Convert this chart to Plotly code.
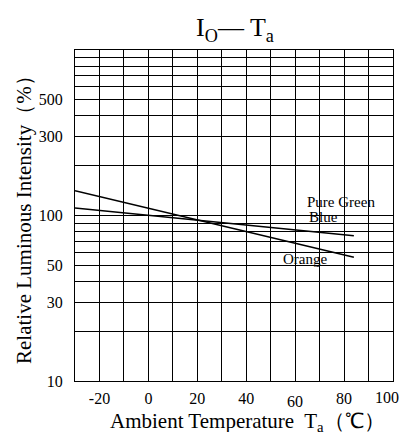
import math
import plotly.graph_objects as go

# Data
temps = [-30, 84]
orange = [141, 56]
pure_green_blue = [111, 75.5]

x_grid = list(range(-30, 101, 10))
x_tick_labels = {-20: "-20", 0: "0", 20: "20", 40: "40", 80: "80"}
x_labels = [x_tick_labels.get(v, "") for v in x_grid]
y_grid = [10, 20, 30, 40, 50, 60, 70, 80, 90, 100, 200, 300, 400, 500, 600, 700, 800, 900, 1000]
y_label_vals = {10: "10", 30: "30", 50: "50", 100: "100", 300: "300", 500: "500"}
y_labels = [y_label_vals.get(v, "") for v in y_grid]

serif = "Liberation Serif"
W, H = 403, 432
L, R, T, B = 75, 10, 50, 51
PW, PH = W - L - R, H - T - B


def py(pix):
    """pixel row -> paper y"""
    return ((H - B) - pix) / PH


def px(pix):
    """pixel column -> paper x"""
    return (pix - L) / PW


fig = go.Figure()
fig.add_trace(go.Scatter(x=temps, y=orange, mode="lines",
                         line=dict(color="black", width=1.6), showlegend=False))
fig.add_trace(go.Scatter(x=temps, y=pure_green_blue, mode="lines",
                         line=dict(color="black", width=1.6), showlegend=False))

annos = [
    dict(x=64, y=121, text="Pure Green", xanchor="left"),
    dict(x=65, y=98.5, text="Blue", xanchor="left"),
    dict(x=64, y=54.6, text="Orange", xanchor="center"),
]
for a in annos:
    fig.add_annotation(x=a["x"], y=math.log10(a["y"]), yref="y", xref="x", text=a["text"],
                       xanchor=a["xanchor"], yanchor="middle", showarrow=False,
                       font=dict(family=serif, size=15, color="black"))

# x tick labels that sit off the regular row in the reference
for val, text, row, dx in [(60, "60", 401, 0), (100, "100", 398, -6)]:
    fig.add_annotation(x=val, xref="x", y=py(row), yref="paper", text=text,
                       xanchor="center", yanchor="middle", xshift=dx, showarrow=False,
                       font=dict(family=serif, size=16, color="black"))

# axis titles
fig.add_annotation(x=px(247), y=py(422), xref="paper", yref="paper",
                   xanchor="center", yanchor="middle", showarrow=False,
                   text="Ambient Temperature  T<sub>a</sub>（℃）",
                   font=dict(family=serif, size=21, color="black"))
fig.add_annotation(x=px(24), y=py(215), xref="paper", yref="paper",
                   xanchor="center", yanchor="middle", showarrow=False, textangle=-90,
                   text="Relative Luminous Intensity（%）",
                   font=dict(family=serif, size=21, color="black"))

fig.update_layout(
    width=W, height=H,
    margin=dict(l=L, r=R, t=T, b=B),
    paper_bgcolor="white", plot_bgcolor="white",
    title=dict(text="I<sub>O</sub>— T<sub>a</sub>", x=235 / W, xanchor="center",
               y=1 - 27 / H, yanchor="middle",
               font=dict(family=serif, size=26, color="black")),
    xaxis=dict(range=[-30, 100], tickvals=x_grid, ticktext=x_labels, automargin=False,
               showgrid=True, gridcolor="black", gridwidth=1,
               showline=True, linecolor="black", linewidth=1, mirror=True,
               zeroline=False, ticks="", ticklabelstandoff=3,
               tickfont=dict(family=serif, size=16, color="black")),
    yaxis=dict(type="log", range=[1, 3], tickvals=y_grid, ticktext=y_labels, automargin=False,
               showgrid=True, gridcolor="black", gridwidth=1,
               showline=True, linecolor="black", linewidth=1, mirror=True,
               zeroline=False, ticks="", ticklabelstandoff=8,
               tickfont=dict(family=serif, size=16, color="black")),
)

fig.write_html("out.html", config={"displayModeBar": False},
               post_script="document.body.style.margin='0';")
